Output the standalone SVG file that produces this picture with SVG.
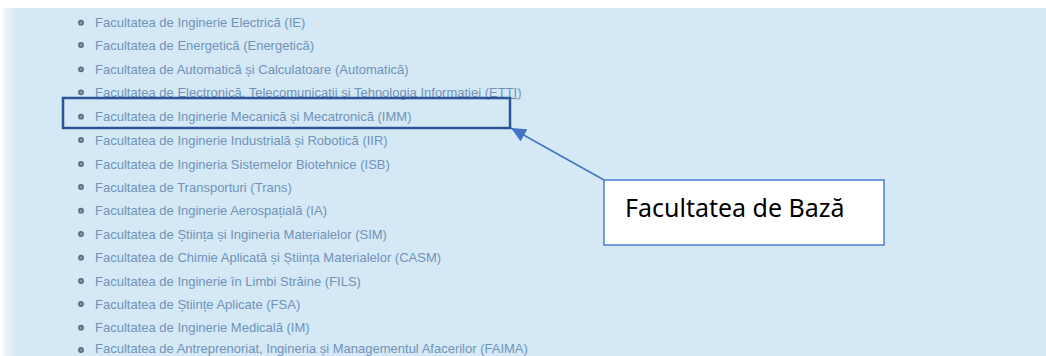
<svg xmlns="http://www.w3.org/2000/svg" width="1046" height="356" viewBox="0 0 1046 356">
<defs>
<style>
.item text{font-family:"Liberation Sans",Arial,sans-serif;font-size:13px;fill:#7093b8}
.bul{fill:#8a9aa8;stroke:#56687a;stroke-width:1.4}
.callout{fill:#ffffff;stroke:#4a7fd0;stroke-width:1.5}
.calltext{font-family:"Noto Sans",sans-serif;font-size:25px;fill:#000000}
.conn{stroke:#4472c4;stroke-width:1.5;fill:none}
</style>
<linearGradient id="edge" x1="0" x2="1" y1="0" y2="0">
<stop offset="0" stop-color="#eef6fb"/>
<stop offset="1" stop-color="#d5e8f5"/>
</linearGradient>
<marker id="ah" markerUnits="userSpaceOnUse" markerWidth="16" markerHeight="14" refX="15" refY="7" orient="auto">
<path d="M0,0 L15,7 L0,14 Z" fill="#4472c4"/>
</marker>
</defs>
<rect x="0" y="0" width="1046" height="356" fill="#ffffff"/>
<rect x="3" y="8" width="1043" height="348" fill="#d5e8f5"/>
<rect x="3" y="8" width="14" height="348" fill="url(#edge)"/>
<g id="list">
<g id="item1" class="item"><circle class="bul" cx="81" cy="22.7" r="2.2"/><text x="95" y="27">Facultatea de Inginerie Electrică (IE)</text></g>
<g id="item2" class="item"><circle class="bul" cx="81" cy="45" r="2.2"/><text x="95" y="49.5">Facultatea de Energetică (Energetică)</text></g>
<g id="item3" class="item"><circle class="bul" cx="81" cy="69.3" r="2.2"/><text x="95" y="73.8">Facultatea de Automatică și Calculatoare (Automatică)</text></g>
<g id="item4" class="item"><circle class="bul" cx="81" cy="92.3" r="2.2"/><text x="95" y="96.8" text-decoration="underline">Facultatea de Electronică, Telecomunicații și Tehnologia Informației (ETTI)</text></g>
<g id="item5" class="item"><circle class="bul" cx="81" cy="116.7" r="2.2"/><text x="95" y="121">Facultatea de Inginerie Mecanică și Mecatronică (IMM)</text></g>
<g id="item6" class="item"><circle class="bul" cx="81" cy="140" r="2.2"/><text x="95" y="144.5">Facultatea de Inginerie Industrială și Robotică (IIR)</text></g>
<g id="item7" class="item"><circle class="bul" cx="81" cy="164" r="2.2"/><text x="95" y="168.5">Facultatea de Ingineria Sistemelor Biotehnice (ISB)</text></g>
<g id="item8" class="item"><circle class="bul" cx="81" cy="187" r="2.2"/><text x="95" y="191.5">Facultatea de Transporturi (Trans)</text></g>
<g id="item9" class="item"><circle class="bul" cx="81" cy="210.7" r="2.2"/><text x="95" y="215.2">Facultatea de Inginerie Aerospațială (IA)</text></g>
<g id="item10" class="item"><circle class="bul" cx="81" cy="234" r="2.2"/><text x="95" y="238.5">Facultatea de Știința și Ingineria Materialelor (SIM)</text></g>
<g id="item11" class="item"><circle class="bul" cx="81" cy="257.7" r="2.2"/><text x="95" y="262.2">Facultatea de Chimie Aplicată și Știința Materialelor (CASM)</text></g>
<g id="item12" class="item"><circle class="bul" cx="81" cy="281" r="2.2"/><text x="95" y="285.5">Facultatea de Inginerie în Limbi Străine (FILS)</text></g>
<g id="item13" class="item"><circle class="bul" cx="81" cy="304" r="2.2"/><text x="95" y="308.5">Facultatea de Științe Aplicate (FSA)</text></g>
<g id="item14" class="item"><circle class="bul" cx="81" cy="327.7" r="2.2"/><text x="95" y="332.2">Facultatea de Inginerie Medicală (IM)</text></g>
<g id="item15" class="item"><circle class="bul" cx="81" cy="350" r="2.2"/><text x="95" y="352.8">Facultatea de Antreprenoriat, Ingineria și Managementul Afacerilor (FAIMA)</text></g>
</g>
<g id="highlight">
<rect x="63" y="98" width="447" height="30" fill="none" stroke="#2f5496" stroke-width="2.5"/>
</g>
<g id="callout">
<rect class="callout" x="604" y="180" width="280" height="65"/>
<text class="calltext" x="625" y="217">Facultatea de Bază</text>
</g>
<g id="connectors">
<line class="conn" x1="604" y1="180" x2="511" y2="128" marker-end="url(#ah)"/>
</g>
</svg>
